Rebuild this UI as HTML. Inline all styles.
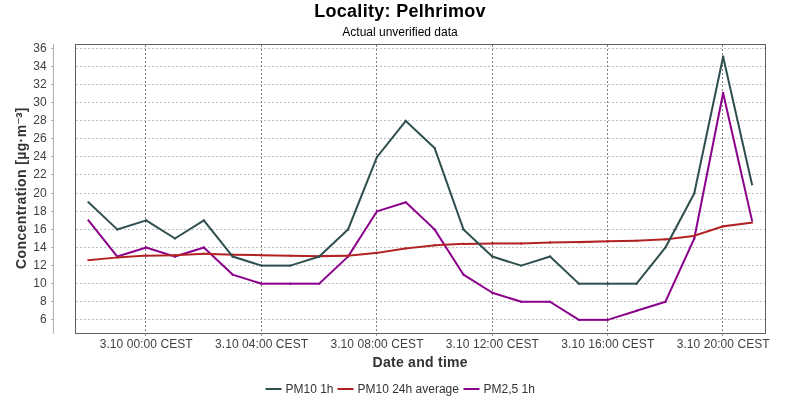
<!DOCTYPE html>
<html><head><meta charset="utf-8"><title>Locality: Pelhrimov</title>
<style>html,body{margin:0;padding:0;background:#fff;}body{width:800px;height:400px;overflow:hidden;font-family:"Liberation Sans",sans-serif;}svg{display:block;will-change:transform;}text{font-family:"Liberation Sans",sans-serif;}</style>
</head><body>
<svg width="800" height="400" viewBox="0 0 800 400">
<rect x="0" y="0" width="800" height="400" fill="#ffffff"/>
<text x="400" y="17" text-anchor="middle" font-size="18" font-weight="bold" letter-spacing="0.3" fill="#000">Locality: Pelhrimov</text>
<text x="400" y="36" text-anchor="middle" font-size="12" fill="#000">Actual unverified data</text>
<g stroke="#c0c0c0" stroke-width="1" stroke-dasharray="2,2" shape-rendering="crispEdges">
<line x1="75.5" y1="319.5" x2="765.5" y2="319.5"/>
<line x1="75.5" y1="301.5" x2="765.5" y2="301.5"/>
<line x1="75.5" y1="283.5" x2="765.5" y2="283.5"/>
<line x1="75.5" y1="265.5" x2="765.5" y2="265.5"/>
<line x1="75.5" y1="247.5" x2="765.5" y2="247.5"/>
<line x1="75.5" y1="229.5" x2="765.5" y2="229.5"/>
<line x1="75.5" y1="211.5" x2="765.5" y2="211.5"/>
<line x1="75.5" y1="193.5" x2="765.5" y2="193.5"/>
<line x1="75.5" y1="174.5" x2="765.5" y2="174.5"/>
<line x1="75.5" y1="156.5" x2="765.5" y2="156.5"/>
<line x1="75.5" y1="138.5" x2="765.5" y2="138.5"/>
<line x1="75.5" y1="120.5" x2="765.5" y2="120.5"/>
<line x1="75.5" y1="102.5" x2="765.5" y2="102.5"/>
<line x1="75.5" y1="84.5" x2="765.5" y2="84.5"/>
<line x1="75.5" y1="66.5" x2="765.5" y2="66.5"/>
<line x1="75.5" y1="48.5" x2="765.5" y2="48.5"/>
</g>
<g stroke="#808080" stroke-width="1" stroke-dasharray="2.5,1.5" shape-rendering="crispEdges">
<line x1="145.5" y1="44.5" x2="145.5" y2="333.5"/>
<line x1="261.5" y1="44.5" x2="261.5" y2="333.5"/>
<line x1="376.5" y1="44.5" x2="376.5" y2="333.5"/>
<line x1="492.5" y1="44.5" x2="492.5" y2="333.5"/>
<line x1="607.5" y1="44.5" x2="607.5" y2="333.5"/>
<line x1="722.5" y1="44.5" x2="722.5" y2="333.5"/>
</g>
<g stroke="#8B008B" stroke-width="2" stroke-linecap="square" fill="none"><line x1="88.43" y1="220.41" x2="117.28" y2="256.57"/><line x1="117.28" y1="256.57" x2="146.13" y2="247.53"/><line x1="146.13" y1="247.53" x2="174.98" y2="256.57"/><line x1="174.98" y1="256.57" x2="203.83" y2="247.53"/><line x1="203.83" y1="247.53" x2="232.68" y2="274.65"/><line x1="232.68" y1="274.65" x2="261.53" y2="283.69"/><line x1="261.53" y1="283.69" x2="290.38" y2="283.69"/><line x1="290.38" y1="283.69" x2="319.23" y2="283.69"/><line x1="319.23" y1="283.69" x2="348.08" y2="256.57"/><line x1="348.08" y1="256.57" x2="376.93" y2="211.37"/><line x1="376.93" y1="211.37" x2="405.78" y2="202.33"/><line x1="405.78" y1="202.33" x2="434.63" y2="229.45"/><line x1="434.63" y1="229.45" x2="463.48" y2="274.65"/><line x1="463.48" y1="274.65" x2="492.33" y2="292.73"/><line x1="492.33" y1="292.73" x2="521.18" y2="301.77"/><line x1="521.18" y1="301.77" x2="550.03" y2="301.77"/><line x1="550.03" y1="301.77" x2="578.88" y2="319.85"/><line x1="578.88" y1="319.85" x2="607.73" y2="319.85"/><line x1="607.73" y1="319.85" x2="636.58" y2="310.81"/><line x1="636.58" y1="310.81" x2="665.43" y2="301.77"/><line x1="665.43" y1="301.77" x2="694.28" y2="238.49"/><line x1="694.28" y1="238.49" x2="723.13" y2="92.95"/><line x1="723.13" y1="92.95" x2="751.98" y2="220.41"/></g>
<g stroke="#B22222" stroke-width="2" stroke-linecap="square" fill="none"><line x1="88.43" y1="260.19" x2="117.28" y2="257.47"/><line x1="117.28" y1="257.47" x2="146.13" y2="255.67"/><line x1="146.13" y1="255.67" x2="174.98" y2="255.21"/><line x1="174.98" y1="255.21" x2="203.83" y2="253.86"/><line x1="203.83" y1="253.86" x2="232.68" y2="254.76"/><line x1="232.68" y1="254.76" x2="261.53" y2="255.21"/><line x1="261.53" y1="255.21" x2="290.38" y2="255.67"/><line x1="290.38" y1="255.67" x2="319.23" y2="256.12"/><line x1="319.23" y1="256.12" x2="348.08" y2="255.67"/><line x1="348.08" y1="255.67" x2="376.93" y2="252.95"/><line x1="376.93" y1="252.95" x2="405.78" y2="248.43"/><line x1="405.78" y1="248.43" x2="434.63" y2="245.27"/><line x1="434.63" y1="245.27" x2="463.48" y2="243.91"/><line x1="463.48" y1="243.91" x2="492.33" y2="243.46"/><line x1="492.33" y1="243.46" x2="521.18" y2="243.46"/><line x1="521.18" y1="243.46" x2="550.03" y2="242.56"/><line x1="550.03" y1="242.56" x2="578.88" y2="242.11"/><line x1="578.88" y1="242.11" x2="607.73" y2="241.20"/><line x1="607.73" y1="241.20" x2="636.58" y2="240.75"/><line x1="636.58" y1="240.75" x2="665.43" y2="239.39"/><line x1="665.43" y1="239.39" x2="694.28" y2="235.78"/><line x1="694.28" y1="235.78" x2="723.13" y2="226.29"/><line x1="723.13" y1="226.29" x2="751.98" y2="222.67"/></g>
<g stroke="#2F4F4F" stroke-width="2" stroke-linecap="square" fill="none"><line x1="88.43" y1="202.33" x2="117.28" y2="229.45"/><line x1="117.28" y1="229.45" x2="146.13" y2="220.41"/><line x1="146.13" y1="220.41" x2="174.98" y2="238.49"/><line x1="174.98" y1="238.49" x2="203.83" y2="220.41"/><line x1="203.83" y1="220.41" x2="232.68" y2="256.57"/><line x1="232.68" y1="256.57" x2="261.53" y2="265.61"/><line x1="261.53" y1="265.61" x2="290.38" y2="265.61"/><line x1="290.38" y1="265.61" x2="319.23" y2="256.57"/><line x1="319.23" y1="256.57" x2="348.08" y2="229.45"/><line x1="348.08" y1="229.45" x2="376.93" y2="157.13"/><line x1="376.93" y1="157.13" x2="405.78" y2="120.97"/><line x1="405.78" y1="120.97" x2="434.63" y2="148.09"/><line x1="434.63" y1="148.09" x2="463.48" y2="229.45"/><line x1="463.48" y1="229.45" x2="492.33" y2="256.57"/><line x1="492.33" y1="256.57" x2="521.18" y2="265.61"/><line x1="521.18" y1="265.61" x2="550.03" y2="256.57"/><line x1="550.03" y1="256.57" x2="578.88" y2="283.69"/><line x1="578.88" y1="283.69" x2="607.73" y2="283.69"/><line x1="607.73" y1="283.69" x2="636.58" y2="283.69"/><line x1="636.58" y1="283.69" x2="665.43" y2="247.53"/><line x1="665.43" y1="247.53" x2="694.28" y2="193.29"/><line x1="694.28" y1="193.29" x2="723.13" y2="56.79"/><line x1="723.13" y1="56.79" x2="751.98" y2="184.25"/></g>
<rect x="75.5" y="44.5" width="690.0" height="289.0" fill="none" stroke="#606060" stroke-width="1" shape-rendering="crispEdges"/>
<g stroke="#b2b2b2" stroke-width="1" shape-rendering="crispEdges">
<line x1="53.5" y1="44.0" x2="53.5" y2="334.0"/>
<line x1="51.0" y1="319.5" x2="54.0" y2="319.5"/>
<line x1="51.0" y1="301.5" x2="54.0" y2="301.5"/>
<line x1="51.0" y1="283.5" x2="54.0" y2="283.5"/>
<line x1="51.0" y1="265.5" x2="54.0" y2="265.5"/>
<line x1="51.0" y1="247.5" x2="54.0" y2="247.5"/>
<line x1="51.0" y1="229.5" x2="54.0" y2="229.5"/>
<line x1="51.0" y1="211.5" x2="54.0" y2="211.5"/>
<line x1="51.0" y1="193.5" x2="54.0" y2="193.5"/>
<line x1="51.0" y1="174.5" x2="54.0" y2="174.5"/>
<line x1="51.0" y1="156.5" x2="54.0" y2="156.5"/>
<line x1="51.0" y1="138.5" x2="54.0" y2="138.5"/>
<line x1="51.0" y1="120.5" x2="54.0" y2="120.5"/>
<line x1="51.0" y1="102.5" x2="54.0" y2="102.5"/>
<line x1="51.0" y1="84.5" x2="54.0" y2="84.5"/>
<line x1="51.0" y1="66.5" x2="54.0" y2="66.5"/>
<line x1="51.0" y1="48.5" x2="54.0" y2="48.5"/>
</g>
<g font-size="12" fill="#404040" text-anchor="end">
<text x="46.6" y="322.5">6</text>
<text x="46.6" y="304.5">8</text>
<text x="46.6" y="286.5">10</text>
<text x="46.6" y="268.5">12</text>
<text x="46.6" y="250.5">14</text>
<text x="46.6" y="232.5">16</text>
<text x="46.6" y="214.5">18</text>
<text x="46.6" y="196.5">20</text>
<text x="46.6" y="177.5">22</text>
<text x="46.6" y="159.5">24</text>
<text x="46.6" y="141.5">26</text>
<text x="46.6" y="123.5">28</text>
<text x="46.6" y="105.5">30</text>
<text x="46.6" y="87.5">32</text>
<text x="46.6" y="69.5">34</text>
<text x="46.6" y="51.5">36</text>
</g>
<g stroke="#9a9a9a" stroke-width="1" shape-rendering="crispEdges">
<line x1="145.5" y1="334.0" x2="145.5" y2="336.0"/>
<line x1="261.5" y1="334.0" x2="261.5" y2="336.0"/>
<line x1="376.5" y1="334.0" x2="376.5" y2="336.0"/>
<line x1="492.5" y1="334.0" x2="492.5" y2="336.0"/>
<line x1="607.5" y1="334.0" x2="607.5" y2="336.0"/>
<line x1="722.5" y1="334.0" x2="722.5" y2="336.0"/>
</g>
<g font-size="12" fill="#404040" text-anchor="middle" letter-spacing="0.07">
<text x="146.2" y="348">3.10 00:00 CEST</text>
<text x="261.6" y="348">3.10 04:00 CEST</text>
<text x="377.0" y="348">3.10 08:00 CEST</text>
<text x="492.4" y="348">3.10 12:00 CEST</text>
<text x="607.8" y="348">3.10 16:00 CEST</text>
<text x="723.2" y="348">3.10 20:00 CEST</text>
</g>
<text x="420.2" y="367.3" text-anchor="middle" font-size="14" font-weight="bold" letter-spacing="0.27" fill="#333">Date and time</text>
<text transform="translate(26,188) rotate(-90)" text-anchor="middle" font-size="14" font-weight="bold" letter-spacing="0.38" fill="#333">Concentration [µg·m<tspan font-size="11" font-weight="normal" dy="-4.2" dx="0.3">−</tspan><tspan dy="5.0" dx="-0.6" font-size="16.5">³</tspan><tspan dy="-0.8">]</tspan></text>
<g font-size="12" fill="#333">
<line x1="265.5" y1="389" x2="281.5" y2="389" stroke="#2F4F4F" stroke-width="2"/>
<text x="285.5" y="393">PM10 1h</text>
<line x1="337.5" y1="389" x2="353.5" y2="389" stroke="#B22222" stroke-width="2"/>
<text x="357.5" y="393">PM10 24h average</text>
<line x1="463.5" y1="389" x2="479.5" y2="389" stroke="#8B008B" stroke-width="2"/>
<text x="483.5" y="393">PM2,5 1h</text>
</g>
</svg>
</body></html>
